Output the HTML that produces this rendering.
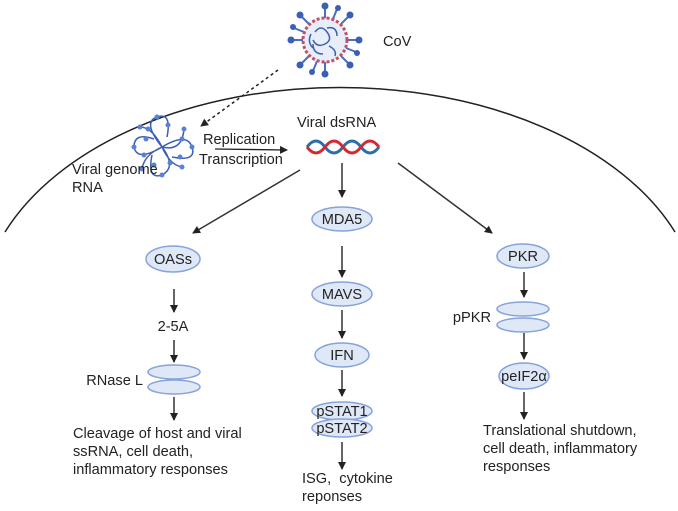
<!DOCTYPE html>
<html><head><style>
body{margin:0;background:#fff;}
svg{display:block;font-family:"Liberation Sans",sans-serif;}
text{font-size:14.6px;fill:#222;}
</style></head><body>
<svg width="678" height="511" viewBox="0 0 678 511">
<defs>
<marker id="ah" markerWidth="8" markerHeight="8" refX="7" refY="4" orient="auto" markerUnits="userSpaceOnUse"><path d="M0,0 L8,4 L0,8 z" fill="#222"/></marker>
</defs>
<path d="M5,232 A360,228 0 0 1 675,232" fill="none" stroke="#222" stroke-width="1.5"/>
<g transform="translate(325,40)">
<g stroke="#4a6fbf" stroke-width="2">
<line x1="0" y1="-22" x2="0" y2="-33"/><line x1="0" y1="22" x2="0" y2="33"/>
<line x1="-22" y1="0" x2="-33" y2="0"/><line x1="22" y1="0" x2="33" y2="0"/>
<line x1="16" y1="16" x2="24" y2="24"/><line x1="-16" y1="16" x2="-24" y2="24"/>
<line x1="16" y1="-16" x2="24" y2="-24"/><line x1="-16" y1="-16" x2="-24" y2="-24"/>
<line x1="8" y1="-21" x2="12" y2="-31"/><line x1="-8" y1="21" x2="-12" y2="31"/>
<line x1="21" y1="8" x2="31" y2="12"/><line x1="-21" y1="-8" x2="-31" y2="-12"/>
</g>
<g fill="#3b5fb5">
<circle cx="0" cy="-34" r="3.5"/><circle cx="0" cy="34" r="3.5"/><circle cx="-34" cy="0" r="3.5"/><circle cx="34" cy="0" r="3.5"/>
<circle cx="25" cy="25" r="3.5"/><circle cx="-25" cy="25" r="3.5"/><circle cx="25" cy="-25" r="3.5"/><circle cx="-25" cy="-25" r="3.5"/>
<circle cx="13" cy="-32" r="3"/><circle cx="-13" cy="32" r="3"/><circle cx="32" cy="13" r="3"/><circle cx="-32" cy="-13" r="3"/>
</g>
<circle r="22" fill="#e8eef8" stroke="#c0506a" stroke-width="3" stroke-dasharray="3 2"/>
<path d="M-10,-8 q6,-8 12,0 q6,8 -2,12 q-8,4 -12,-4 M2,-12 q10,-2 10,8 M-12,4 q0,10 10,10 M4,6 q8,4 6,10 M-14,-6 q-4,8 2,14" fill="none" stroke="#3b5fb5" stroke-width="1.5"/>
</g>
<text x="383" y="46">CoV</text>
<line x1="278" y1="70" x2="201" y2="126" stroke="#222" stroke-width="1.5" stroke-dasharray="3 3" marker-end="url(#ah)"/>
<g transform="translate(162,147)" fill="none" stroke="#3b5fb5" stroke-width="1.5">
<path d="M0,0 q-20,-25 -5,-30 q15,-5 10,20 M0,0 q25,-15 30,0 q5,15 -20,10 M0,0 q15,20 0,28 q-15,5 -10,-20 M0,0 q-25,15 -28,0 q0,-15 20,-8 M0,0 q-10,-20 -22,-20 M0,0 q20,5 22,-18 M0,0 q8,18 20,20 M0,0 q-18,8 -20,22"/>
<g fill="#5b82d0" stroke="none">
<circle cx="-5" cy="-30" r="2.5"/><circle cx="6" cy="-22" r="2.5"/><circle cx="-14" cy="-18" r="2.5"/>
<circle cx="30" cy="0" r="2.5"/><circle cx="20" cy="-8" r="2.5"/><circle cx="18" cy="10" r="2.5"/>
<circle cx="0" cy="28" r="2.5"/><circle cx="-8" cy="18" r="2.5"/><circle cx="8" cy="16" r="2.5"/>
<circle cx="-28" cy="0" r="2.5"/><circle cx="-18" cy="8" r="2.5"/><circle cx="-16" cy="-8" r="2.5"/>
<circle cx="-22" cy="-20" r="2.5"/><circle cx="22" cy="-18" r="2.5"/><circle cx="20" cy="20" r="2.5"/><circle cx="-20" cy="22" r="2.5"/>
</g></g>
<text x="72" y="174">Viral genome</text>
<text x="72" y="192">RNA</text>
<text x="203" y="144">Replication</text>
<text x="199" y="164">Transcription</text>
<line x1="215" y1="149" x2="287" y2="150" stroke="#222" stroke-width="1.3" marker-end="url(#ah)"/>
<text x="297" y="127">Viral dsRNA</text>
<path d="M307,147 q9,-12 18,0 t18,0 t18,0 t18,0" fill="none" stroke="#2b6fa8" stroke-width="3"/>
<path d="M307,147 q9,12 18,0 t18,0 t18,0 t18,0" fill="none" stroke="#d02a35" stroke-width="3"/>
<g stroke="#333" stroke-width="1.5">
<line x1="300" y1="170" x2="193" y2="233" marker-end="url(#ah)"/>
<line x1="342" y1="163" x2="342" y2="197" marker-end="url(#ah)"/>
<line x1="398" y1="163" x2="492" y2="233" marker-end="url(#ah)"/>
<line x1="174" y1="289" x2="174" y2="312" marker-end="url(#ah)"/>
<line x1="174" y1="340" x2="174" y2="362" marker-end="url(#ah)"/>
<line x1="174" y1="397" x2="174" y2="420" marker-end="url(#ah)"/>
<line x1="342" y1="246" x2="342" y2="277" marker-end="url(#ah)"/>
<line x1="342" y1="310" x2="342" y2="338" marker-end="url(#ah)"/>
<line x1="342" y1="370" x2="342" y2="396" marker-end="url(#ah)"/>
<line x1="342" y1="442" x2="342" y2="469" marker-end="url(#ah)"/>
<line x1="524" y1="272" x2="524" y2="297" marker-end="url(#ah)"/>
<line x1="524" y1="333" x2="524" y2="359" marker-end="url(#ah)"/>
<line x1="524" y1="392" x2="524" y2="419" marker-end="url(#ah)"/>
</g>
<g fill="#dfe8f7" stroke="#86a3da" stroke-width="1.5">
<ellipse cx="342" cy="219" rx="30" ry="12"/>
<ellipse cx="173" cy="259" rx="27" ry="13"/>
<ellipse cx="523" cy="256" rx="26" ry="12"/>
<ellipse cx="342" cy="294" rx="30" ry="12"/>
<ellipse cx="342" cy="355" rx="27" ry="12"/>
<ellipse cx="342" cy="411" rx="30" ry="9"/>
<ellipse cx="342" cy="428" rx="30" ry="9"/>
<ellipse cx="174" cy="372" rx="26" ry="7"/>
<ellipse cx="174" cy="387" rx="26" ry="7"/>
<ellipse cx="523" cy="309" rx="26" ry="7"/>
<ellipse cx="523" cy="325" rx="26" ry="7"/>
<ellipse cx="524" cy="376" rx="25" ry="13"/>
</g>
<g text-anchor="middle">
<text x="342" y="224">MDA5</text>
<text x="173" y="264">OASs</text>
<text x="523" y="261">PKR</text>
<text x="342" y="299">MAVS</text>
<text x="342" y="360">IFN</text>
<text x="342" y="416">pSTAT1</text>
<text x="342" y="433">pSTAT2</text>
<text x="524" y="381">peIF2α</text>
<text x="173" y="331">2-5A</text>
</g>
<text x="143" y="385" text-anchor="end">RNase L</text>
<text x="491" y="322" text-anchor="end">pPKR</text>
<text x="73" y="438">Cleavage of host and viral</text>
<text x="73" y="456">ssRNA, cell death,</text>
<text x="73" y="474">inflammatory responses</text>
<text x="302" y="483">ISG,&#160; cytokine</text>
<text x="302" y="501">reponses</text>
<text x="483" y="435">Translational shutdown,</text>
<text x="483" y="453">cell death, inflammatory</text>
<text x="483" y="471">responses</text>
</svg>
</body></html>
